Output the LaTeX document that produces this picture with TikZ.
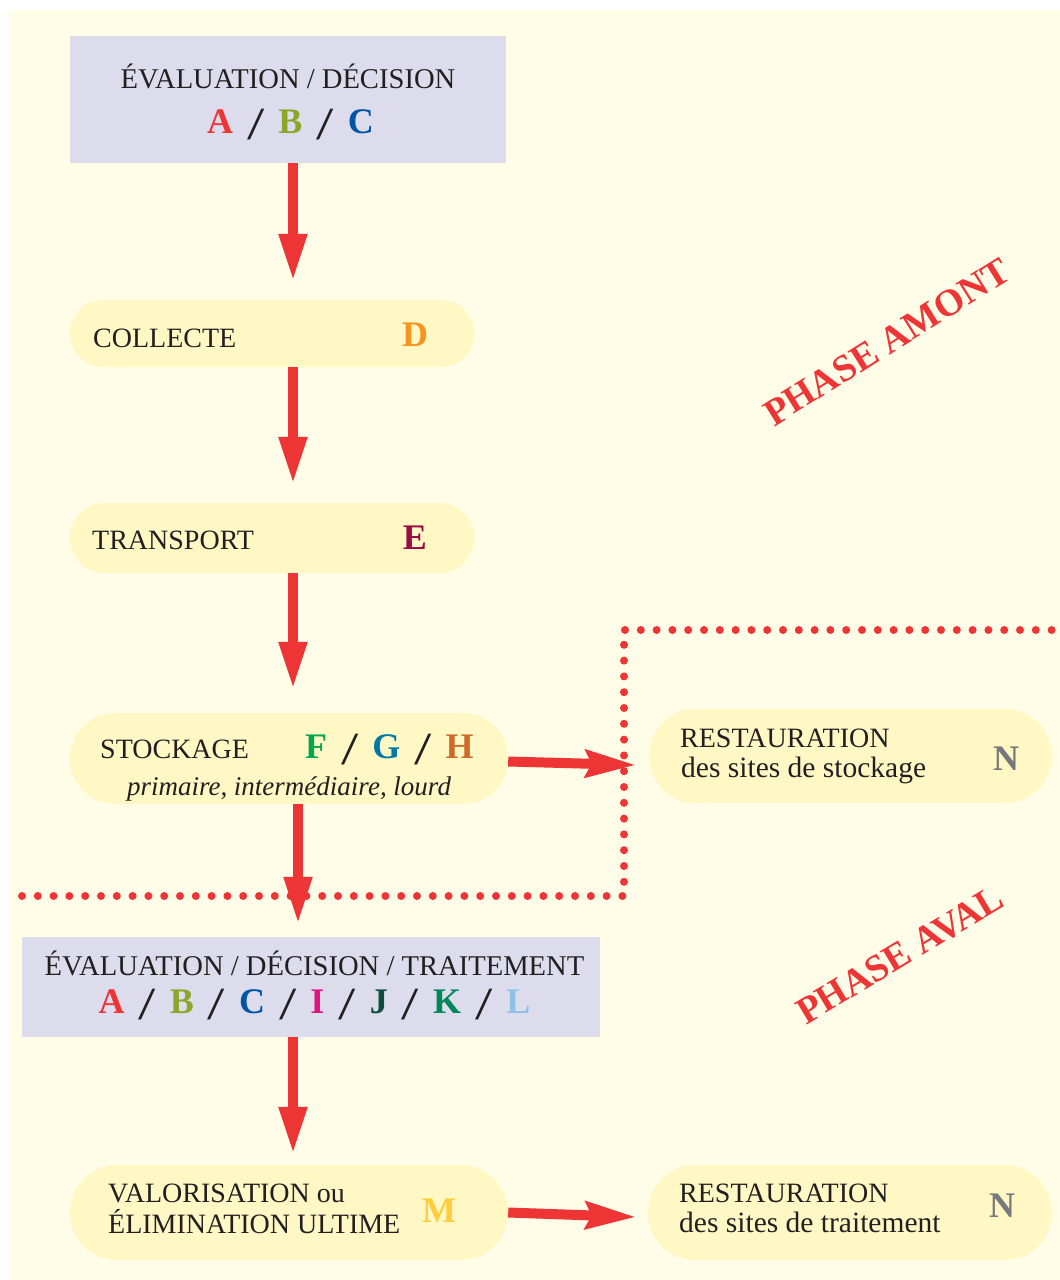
\documentclass[tikz,border=0pt]{standalone}
\usepackage{fontspec}
\setmainfont{Liberation Serif}
\usetikzlibrary{arrows.meta,calc}

\definecolor{paper}{HTML}{FFFDE8}
\definecolor{pillfill}{HTML}{FFF8C5}
\definecolor{lavender}{HTML}{DDDCEC}
\definecolor{ink}{HTML}{231F20}
\definecolor{alert}{HTML}{EE3536}
\definecolor{cA}{HTML}{EE3536}
\definecolor{cB}{HTML}{8FA52A}
\definecolor{cC}{HTML}{0055A5}
\definecolor{cD}{HTML}{F7941D}
\definecolor{cE}{HTML}{9B0B45}
\definecolor{cF}{HTML}{00A651}
\definecolor{cG}{HTML}{0078A8}
\definecolor{cH}{HTML}{D06A2A}
\definecolor{cI}{HTML}{E0147E}
\definecolor{cJ}{HTML}{0E4D3A}
\definecolor{cK}{HTML}{00875A}
\definecolor{cL}{HTML}{8EC0E8}
\definecolor{cM}{HTML}{FFCC3A}
\definecolor{cN}{HTML}{77787B}

% separator between the code letters: a tall, widened regular slash
\newcommand\codesep{\hspace{14pt}\raisebox{-6pt}{\mdseries\color{ink}\fontsize{46}{46}\selectfont\scalebox{1.35}[1]{/}}\hspace{14pt}}

\begin{document}
\begin{tikzpicture}[x=1pt,y=-1pt,
  panel/.style={fill=lavender, inner sep=0pt},
  pill/.style={fill=pillfill, inner sep=0pt},
  label/.style={inner sep=0pt, text=ink, font=\fontsize{28}{30}\selectfont},
  title/.style={inner sep=0pt, text=ink, font=\fontsize{28.6}{30}\selectfont},
  sublabel/.style={inner sep=0pt, text=ink, font=\fontsize{29.5}{31}\selectfont},
  code/.style={inner sep=0pt, font=\bfseries\fontsize{36}{36}\selectfont},
  phase/.style={inner sep=0pt, text=alert, font=\bfseries\fontsize{38}{38}\selectfont},
  flow/.style={draw=alert, line width=10.5pt, -{Triangle[length=48pt,width=26pt]}},
  sideflow/.style={draw=alert, line width=10pt, -{Stealth[length=50pt,width=27pt,inset=6pt]}},
  dots/.style={draw=alert, line width=8pt, line cap=round, dash pattern=on 0pt off 15.8pt}]

\useasboundingbox (0,0) rectangle (1060,1280);
\fill[paper] (9,10) rectangle (1060,1280);

% boxes of the chain
\node[panel, minimum width=436pt, minimum height=127pt] (box1) at (288,99.5) {};
\node[pill, minimum width=404pt, minimum height=67pt, rounded corners=33pt] (collecte) at (272,333.5) {};
\node[pill, minimum width=404pt, minimum height=70pt, rounded corners=34.5pt] (transport) at (272,538) {};
\node[pill, minimum width=438pt, minimum height=91pt, rounded corners=45pt] (stock) at (289,758.5) {};
\node[pill, minimum width=403pt, minimum height=94pt, rounded corners=46.5pt] (rest1) at (850.5,756) {};
\node[panel, minimum width=578pt, minimum height=100pt] (box2) at (311,987) {};
\node[pill, minimum width=438pt, minimum height=95pt, rounded corners=47pt] (valor) at (289,1212.5) {};
\node[pill, minimum width=404pt, minimum height=95pt, rounded corners=47pt] (rest2) at (850,1212.5) {};

% texts
\node[title, anchor=base] (t1) at (288,88) {ÉVALUATION / DÉCISION};
\node[code, anchor=base] (c1) at (290.5,133)
  {\textcolor{cA}{A}\codesep\textcolor{cB}{B}\codesep\textcolor{cC}{C}};

\node[label, anchor=base west] (collecteT) at (93,347) {COLLECTE};
\node[code, anchor=base, text=cD] (collecteC) at (415,346) {D};

\node[label, anchor=base west] (transportT) at (92,549) {TRANSPORT};
\node[code, anchor=base, text=cE] (transportC) at (415,549) {E};

\node[label, anchor=base west] (stockT) at (100,758) {STOCKAGE};
\node[code, anchor=base west] (stockC) at (305,758)
  {\textcolor{cF}{F}\codesep\textcolor{cG}{G}\codesep\textcolor{cH}{H}};
\node[inner sep=0pt, text=ink, font=\itshape\fontsize{27}{29}\selectfont, anchor=base] (stockS) at (289,795)
  {primaire, intermédiaire, lourd};

\node[label, anchor=base west] (rest1T) at (680,747) {RESTAURATION};
\node[sublabel, anchor=base west] (rest1S) at (681,777) {des sites de stockage};
\node[code, anchor=base west, text=cN] (rest1C) at (993,770) {N};

\node[title, anchor=base] (t2) at (314.5,975) {ÉVALUATION / DÉCISION / TRAITEMENT};
\node[code, anchor=base] (c2) at (314.5,1013)
  {\textcolor{cA}{A}\codesep\textcolor{cB}{B}\codesep\textcolor{cC}{C}\codesep\textcolor{cI}{I}\codesep\textcolor{cJ}{J}\codesep\textcolor{cK}{K}\codesep\textcolor{cL}{L}};

\node[label, anchor=base west] (valorT1) at (108,1202) {VALORISATION ou};
\node[label, anchor=base west] (valorT2) at (108,1233) {ÉLIMINATION ULTIME};
\node[code, anchor=base west, text=cM] (valorC) at (422,1222) {M};

\node[label, anchor=base west] (rest2T) at (679,1202) {RESTAURATION};
\node[sublabel, anchor=base west] (rest2S) at (679,1232) {des sites de traitement};
\node[code, anchor=base west, text=cN] (rest2C) at (989,1217) {N};

% phase titles
\node[phase, rotate=32] (amont) at (887,342) {PHASE AMONT};
\node[phase, rotate=31] (aval) at (900,955) {PHASE AVAL};

% dotted frontier between the two phases
\coordinate (fa) at (22,896);
\coordinate (fb) at (624,896);
\coordinate (fc) at (624,630);
\coordinate (fd) at (1062,630);
\draw[dots] (fa) -- (fb) -- (fc) -- (fd);

% arrows
\coordinate (spine) at (293,0);
\coordinate (spine2) at (298,0);
\draw[flow, shorten >=18pt] (box1.south -| spine) -- (collecte.north -| spine);
\draw[flow, shorten >=18pt] (collecte.south -| spine) -- (transport.north -| spine);
\draw[flow, shorten >=23pt] (transport.south -| spine) -- (stock.north -| spine);
\draw[flow, shorten >=12pt] (stock.south -| spine2) -- (box2.north -| spine2);
\draw[flow, shorten >=10pt] (box2.south -| spine) -- (valor.north -| spine);
\draw[sideflow] ($(stock.east)+(0,3)$) -- ($(rest1.west)+(-13,9)$);
\draw[sideflow] (valor.east) -- ($(rest2.west)+(-12,4.5)$);

\end{tikzpicture}
\end{document}
